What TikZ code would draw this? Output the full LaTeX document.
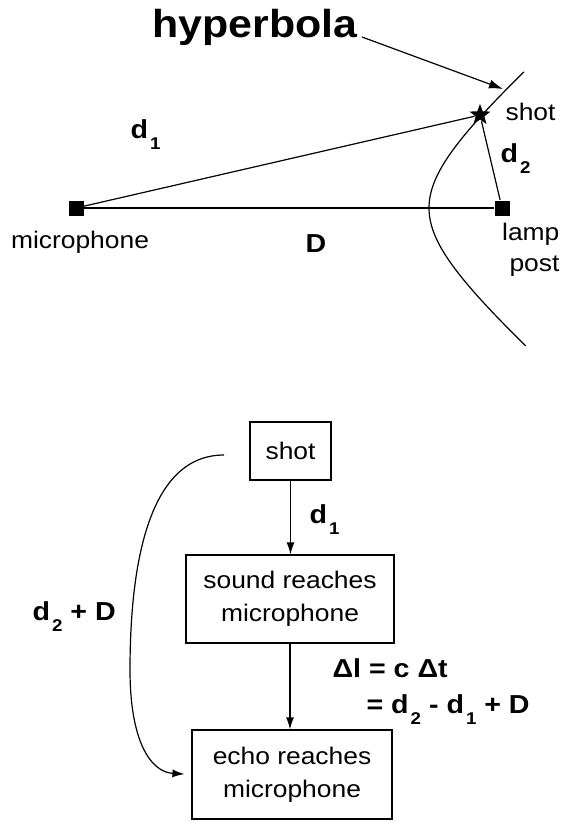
\documentclass[tikz,border=0pt]{standalone}
\usepackage{fontspec}
\setmainfont[FakeStretch=1.1]{Liberation Sans}
\usetikzlibrary{arrows.meta,shapes.geometric}
\newcommand\sbs[1]{\hspace{2pt}\raisebox{-11pt}{\fontsize{17}{17}\selectfont #1}}
\begin{document}
\begin{tikzpicture}[x=1pt,y=-1pt, line width=1.2pt,
  lbl/.style={inner sep=0pt, font=\fontsize{24}{33}\selectfont},
  blbl/.style={inner sep=0pt, font=\fontsize{26}{30}\selectfont\bfseries},
  box/.style={draw, inner sep=0pt, align=center, font=\fontsize{24}{33}\selectfont},
  arr/.style={-{Latex[length=12pt,width=8pt]}},
  sq/.style={fill, minimum size=15pt, inner sep=0pt},
]
\useasboundingbox (0,0) rectangle (567,822);

% ---------- top part ----------
\node[inner sep=0pt, anchor=base west, font=\fontsize{39}{44}\selectfont\bfseries] (hyp) at (152,37) {hyperbola};
\coordinate (hypstart) at (362,37);
\coordinate (hyptip) at (503,89);
\draw plot[domain=-1.418:1.431, samples=90, variable=\t] ({349+80*cosh(\t)}, {208+70*sinh(\t)});
\draw[-{Latex[length=14pt,width=9pt]}] (hypstart) -- (hyptip);

\node[sq] (mic) at (76,208) {};
\node[sq] (lamp) at (502,208) {};
\node[star, star points=5, star point ratio=2.4, fill, minimum size=22pt, inner sep=0pt] (star) at (480,115) {};

\draw (mic) -- (star);
\draw (lamp) -- (star);
\draw (mic) -- (lamp);

\node[lbl, anchor=base west] (shotlbl) at (505,120) {shot};
\node[blbl, anchor=base west] (d1top) at (130,138) {d\sbs{1}};
\node[blbl, anchor=base west] (d2top) at (500,162) {d\sbs{2}};
\node[lbl, anchor=base] (miclbl) at (80,248) {microphone};
\node[blbl, anchor=base] (Dlbl) at (316,252) {D};
\node[lbl, anchor=base east] (lamplbl) at (560,240) {lamp};
\node[lbl, anchor=base east] (postlbl) at (560,271) {post};

% ---------- flow chart ----------
\node[box, minimum width=81pt, minimum height=58pt] (shotbox) at (290.5,451) {shot};
\node[box, minimum width=208pt, minimum height=88pt] (soundbox) at (290,599) {sound reaches\\microphone};
\node[box, minimum width=200pt, minimum height=89pt] (echobox) at (292,774.5) {echo reaches\\microphone};

\draw[arr] (shotbox.south) -- (shotbox.south |- soundbox.north);
\draw[arr] (soundbox.south) -- (soundbox.south |- echobox.north);

\coordinate (cs) at (224,455);
\draw[arr, shorten >=7pt] (cs) .. controls (150,455) and (130,560) .. (130,670)
  .. controls (130,740) and (150,772) .. (echobox.west);

\node[blbl, anchor=base west] (d1b) at (309,523) {d\sbs{1}};
\node[blbl, anchor=base west] (d2D) at (32,620) {d\sbs{2} + D};
\node[blbl, anchor=base west] (eq1) at (332,677) {Δl = c Δt};
\node[blbl, anchor=base west] (eq2) at (366,713) {= d\sbs{2} - d\sbs{1} + D};
\end{tikzpicture}
\end{document}
